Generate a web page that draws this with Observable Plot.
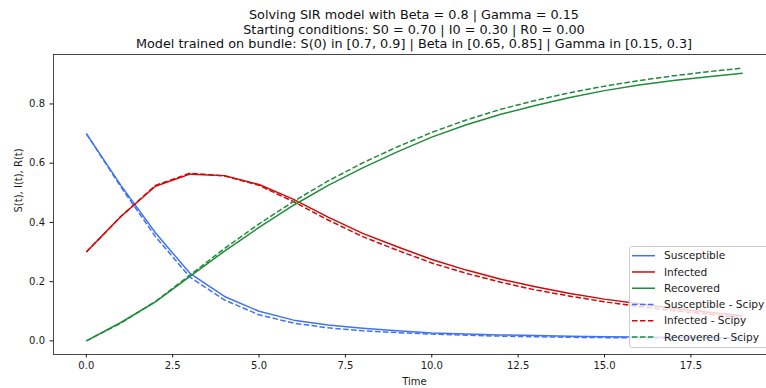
<!DOCTYPE html>
<html>
<head>
<meta charset="utf-8">
<script src="https://cdn.jsdelivr.net/npm/d3@7"></script>
<script src="https://cdn.jsdelivr.net/npm/@observablehq/plot@0.6"></script>
<style>
  html, body { margin: 0; padding: 0; background: #fff; }
  #fig { position: relative; width: 766px; height: 388px; overflow: hidden; font-family: "DejaVu Sans", sans-serif; }
  #title { position: relative; height: 48px; padding-top: 8px; box-sizing: border-box; width: 828px; text-align: center;
           font-size: 12.8px; line-height: 14.5px; color: #111; white-space: nowrap; z-index: 1; }
  #legend { position: absolute; left: 629px; top: 246px; }
</style>
</head>
<body>
<div id="fig">
  <div id="title"></div>
</div>
<script>
// Time grid (days)
const time = [0, 1, 2, 3, 4, 5, 6, 7, 8, 9, 10, 11, 12, 13, 14, 15, 16, 17, 18, 19];

// Network solution
const susceptible = [0.700, 0.525, 0.365, 0.228, 0.150, 0.100, 0.070, 0.054, 0.043, 0.034,
                     0.027, 0.023, 0.020, 0.018, 0.016, 0.014, 0.013, 0.012, 0.011, 0.010];
const infected    = [0.300, 0.420, 0.522, 0.563, 0.558, 0.528, 0.478, 0.418, 0.363, 0.318,
                     0.275, 0.239, 0.208, 0.183, 0.160, 0.141, 0.125, 0.109, 0.097, 0.085];
const recovered   = [0.000, 0.062, 0.132, 0.218, 0.303, 0.383, 0.458, 0.525, 0.584, 0.638,
                     0.688, 0.730, 0.765, 0.795, 0.822, 0.845, 0.864, 0.879, 0.892, 0.904];

// Reference solution from scipy
const susceptibleScipy = [0.700, 0.520, 0.352, 0.215, 0.138, 0.088, 0.060, 0.044, 0.034, 0.028,
                          0.023, 0.019, 0.016, 0.014, 0.012, 0.011, 0.010, 0.009, 0.009, 0.008];
const infectedScipy    = [0.300, 0.420, 0.525, 0.566, 0.557, 0.525, 0.470, 0.408, 0.352, 0.306,
                          0.263, 0.228, 0.198, 0.172, 0.151, 0.132, 0.116, 0.102, 0.090, 0.078];
const recoveredScipy   = [0.000, 0.060, 0.133, 0.222, 0.312, 0.395, 0.471, 0.540, 0.601, 0.655,
                          0.704, 0.746, 0.782, 0.812, 0.838, 0.860, 0.879, 0.895, 0.909, 0.921];

const xTicks = [0, 2.5, 5, 7.5, 10, 12.5, 15, 17.5];
const yTicks = [0, 0.2, 0.4, 0.6, 0.8];

const titleLines = [
  "Solving SIR model with Beta = 0.8 | Gamma = 0.15",
  "Starting conditions: S0 = 0.70 | I0 = 0.30 | R0 = 0.00",
  "Model trained on bundle: S(0) in [0.7, 0.9] | Beta in [0.65, 0.85] | Gamma in [0.15, 0.3]"
];

const BLUE = "#4272f5", RED = "#cf0a0a", GREEN = "#228b3b";
const DASH = "5.55,2.4";

const series = [
  {name: "Susceptible",         values: susceptible,      color: BLUE,  dash: null},
  {name: "Infected",            values: infected,         color: RED,   dash: null},
  {name: "Recovered",           values: recovered,        color: GREEN, dash: null},
  {name: "Susceptible - Scipy", values: susceptibleScipy, color: BLUE,  dash: DASH},
  {name: "Infected - Scipy",    values: infectedScipy,    color: RED,   dash: DASH},
  {name: "Recovered - Scipy",   values: recoveredScipy,   color: GREEN, dash: DASH}
];

// Title
d3.select("#title").selectAll("div").data(titleLines).join("div").text(d => d);

const fmt = d => d.toFixed(1);

const chart = Plot.plot({
  width: 776,
  height: 340,
  marginTop: 6,
  marginBottom: 34,
  marginLeft: 53,
  marginRight: 1,
  style: {fontFamily: "DejaVu Sans, sans-serif", fontSize: "10px", background: "transparent",
          maxWidth: "none", color: "#1a1a1a", overflow: "visible"},
  x: {domain: [-0.95, 19.95]},
  y: {domain: [-0.046, 0.967]},
  marks: [
    ...series.map(s => Plot.line(time, {
      x: time, y: s.values, stroke: s.color, strokeWidth: 1.5,
      strokeDasharray: s.dash ?? undefined, strokeLinejoin: "round", strokeLinecap: "butt"
    })),
    Plot.frame({stroke: "#333", strokeWidth: 0.9}),
    Plot.axisX({ticks: xTicks, tickFormat: fmt, tickSize: 3.5, tickPadding: 4, label: null, fontSize: 10}),
    Plot.axisY({ticks: yTicks, tickFormat: fmt, tickSize: 3.5, tickPadding: 5, label: null, fontSize: 10}),
    Plot.text(["Time"], {text: d => d, frameAnchor: "bottom", dy: 27, lineAnchor: "middle", fontSize: 10}),
    Plot.text(["S(t), I(t), R(t)"], {text: d => d, frameAnchor: "left", rotate: -90, dx: -35, dy: 8,
                                     lineAnchor: "middle", fontSize: 10})
  ]
});
document.getElementById("fig").appendChild(chart);

// Legend box (semi-transparent, lower right)
const rowH = 16.27;
const legend = d3.select("#fig").append("svg")
  .attr("id", "legend")
  .attr("width", 145).attr("height", 104)
  .style("font-family", "DejaVu Sans, sans-serif").style("font-size", "10.6px");
legend.append("rect")
  .attr("x", 0.5).attr("y", 0.5).attr("width", 142).attr("height", 101)
  .attr("rx", 2.5).attr("fill", "white").attr("fill-opacity", 0.8)
  .attr("stroke", "#cccccc").attr("stroke-width", 1);
const row = legend.selectAll("g.item").data(series).join("g")
  .attr("class", "item")
  .attr("transform", (d, i) => `translate(0,${9.7 + i * rowH})`);
row.append("line")
  .attr("x1", 3).attr("x2", 26).attr("y1", 0).attr("y2", 0)
  .attr("stroke", d => d.color).attr("stroke-width", 1.5)
  .attr("stroke-dasharray", d => d.dash);
row.append("text")
  .attr("x", 35).attr("y", 0).attr("dy", "0.35em")
  .attr("fill", "#1a1a1a")
  .text(d => d.name);
</script>
</body>
</html>
